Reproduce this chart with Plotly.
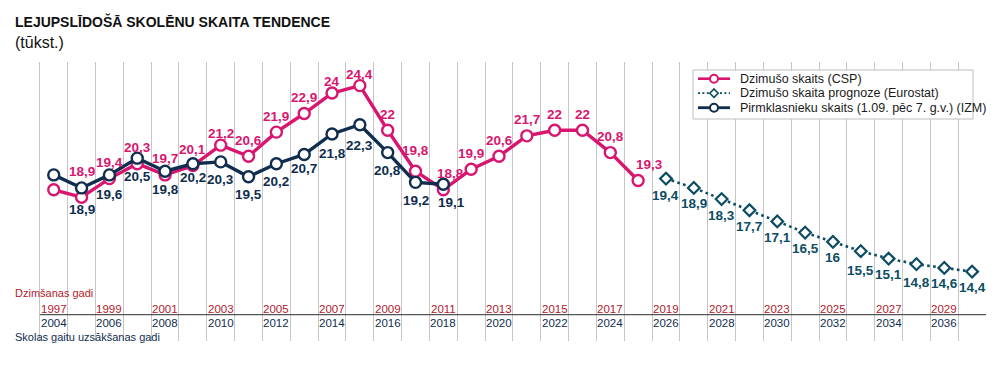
import plotly.graph_objects as go

# ---------------- data ----------------
birth_years = list(range(1997, 2019))            # CSP births, by birth year
births = [18.8, 18.4, 19.4, 20.2, 19.6, 20.1, 21.2, 20.6, 21.9, 22.9, 24.0,
          24.4, 22.0, 19.8, 18.8, 19.9, 20.6, 21.7, 22.0, 22.0, 20.8, 19.3]
births_labels = ["", "18,9", "19,4", "20,3", "19,7", "20,1", "21,2", "20,6",
                 "21,9", "22,9", "24", "24,4", "22", "19,8", "18,8", "19,9",
                 "20,6", "21,7", "22", "22", "20,8", "19,3"]

forecast_years = list(range(2019, 2031))          # Eurostat forecast
forecast = [19.4, 18.9, 18.3, 17.7, 17.1, 16.5, 16.0, 15.5, 15.1, 14.8, 14.6, 14.4]
forecast_labels = ["19,4", "18,9", "18,3", "17,7", "17,1", "16,5", "16",
                   "15,5", "15,1", "14,8", "14,6", "14,4"]

pupil_years = list(range(1997, 2012))             # first graders (by birth year)
pupils = [19.6, 18.9, 19.6, 20.5, 19.8, 20.2, 20.3, 19.5, 20.2, 20.7, 21.8,
          22.3, 20.8, 19.2, 19.1]
pupils_labels = ["", "18,9", "19,6", "20,5", "19,8", "20,2", "20,3", "19,5",
                 "20,2", "20,7", "21,8", "22,3", "20,8", "19,2", "19,1"]

tick_birth_years = list(range(1997, 2030, 2))
tick_school_years = [y + 7 for y in tick_birth_years]

series_names = ["Dzimušo skaits (CSP)",
                "Dzimušo skaita prognoze (Eurostat)",
                "Pirmklasnieku skaits (1.09. pēc 7. g.v.) (IZM)"]

# ---------------- style ----------------
PINK = "#d8166f"
NAVY = "#0f2d4e"
TEAL = "#0c4d63"
RED = "#b3192c"
GRID = "#c6c6c6"
SANS = "'Liberation Sans', Arial, 'DejaVu Sans', sans-serif"

# page has an 8px body margin: figure occupies window x 8..1000, y 8..369
W, H = 992, 361
ML, MR, MT, MB = 4, 14, 54, 28
PLOT_L, PLOT_T = ML + 8, MT + 8                   # window coords of plot area
PLOT_W, PLOT_H = W - ML - MR, H - MT - MB


def px(X):  # window pixel -> paper x
    return (X - PLOT_L) / PLOT_W


def py(Y):  # window pixel -> paper y
    return (PLOT_T + PLOT_H - Y) / PLOT_H


# label offsets (pixels) - style only
pink_dy = {1998: 26, 2003: 12, 2007: 12, 2008: 11, 2010: 21}
pink_dx = {2011: 7, 2018: 11}
navy_dy = {1998: -22, 1999: -20, 2002: -14, 2006: -14, 2007: -20, 2008: -21}
navy_dx = {2011: 8}
fc_dy = {2019: -17, 2026: -19, 2028: -18}

fig = go.Figure()

styles = [
    dict(line=dict(color=PINK, width=3.4),
         marker=dict(symbol="circle", size=11, color="white", line=dict(color=PINK, width=2.4))),
    dict(line=dict(color=TEAL, width=2.6, dash="2.6px,3.4px"),
         marker=dict(symbol="diamond", size=9, color="white", line=dict(color=TEAL, width=2.2))),
    dict(line=dict(color=NAVY, width=3.4),
         marker=dict(symbol="circle", size=11, color="white", line=dict(color=NAVY, width=2.4))),
]
data_sets = [(birth_years, births), (forecast_years, forecast), (pupil_years, pupils)]

for (xs, ys), st, name in zip(data_sets, styles, series_names):
    fig.add_trace(go.Scatter(x=xs, y=ys, name=name, mode="lines+markers",
                             line=st["line"], marker=st["marker"], showlegend=False))

annotations = []
label_font = dict(family=SANS, size=13.5, weight="bold")
for x, y, t in zip(birth_years, births, births_labels):
    if t:
        annotations.append(dict(x=x, y=y, text=t, showarrow=False,
                                xshift=pink_dx.get(x, 0), yshift=pink_dy.get(x, 16),
                                font=dict(label_font, color=PINK)))
for x, y, t in zip(pupil_years, pupils, pupils_labels):
    if t:
        annotations.append(dict(x=x, y=y, text=t, showarrow=False,
                                xshift=navy_dx.get(x, 0), yshift=navy_dy.get(x, -18),
                                font=dict(label_font, color=NAVY)))
for x, y, t in zip(forecast_years, forecast, forecast_labels):
    annotations.append(dict(x=x, y=y, text=t, showarrow=False,
                            yshift=fc_dy.get(x, -16),
                            font=dict(label_font, color=TEAL)))

# bottom year axes
for by, sy in zip(tick_birth_years, tick_school_years):
    annotations.append(dict(x=by, y=py(309), xref="x", yref="paper", text=str(by),
                            showarrow=False, yanchor="middle",
                            font=dict(family=SANS, size=11.5, color=RED)))
    annotations.append(dict(x=by, y=py(322.5), xref="x", yref="paper", text=str(sy),
                            showarrow=False, yanchor="middle",
                            font=dict(family=SANS, size=11.5, color=NAVY)))

annotations += [
    dict(x=px(13), y=py(293), xref="paper", yref="paper", xanchor="left", yanchor="middle",
         text="Dzimšanas gadi", showarrow=False,
         font=dict(family=SANS, size=11, color=RED)),
    dict(x=px(13), y=py(336.5), xref="paper", yref="paper", xanchor="left", yanchor="middle",
         text="Skolas gaitu uzsākšanas gadi", showarrow=False,
         font=dict(family=SANS, size=11, color=NAVY)),
    dict(x=px(13), y=py(21), xref="paper", yref="paper", xanchor="left", yanchor="middle",
         text="LEJUPSLĪDOŠĀ SKOLĒNU SKAITA TENDENCE", showarrow=False,
         font=dict(family=SANS, size=14, weight="bold", color="#111")),
    dict(x=px(13), y=py(42), xref="paper", yref="paper", xanchor="left", yanchor="middle",
         text="(tūkst.)", showarrow=False,
         font=dict(family=SANS, size=16, color="#111")),
]

shapes = [dict(type="line", xref="x", yref="paper", x0=1996.5, x1=2030.5,
               y0=py(314.7), y1=py(314.7), line=dict(color="#555", width=1.3))]

# ---------- hand-built legend (compact rows like the original) ----------
LEG_X0, LEG_X1, LEG_Y0, LEG_Y1 = 693, 973, 70, 119
ROWS = [78.7, 93.2, 107.7]
KEY_X0, KEY_X1, KEY_MID, TEXT_X = 698, 730, 714, 738
shapes.append(dict(type="rect", xref="paper", yref="paper", layer="above",
                   x0=px(LEG_X0), x1=px(LEG_X1), y0=py(LEG_Y1), y1=py(LEG_Y0),
                   fillcolor="white", line=dict(color="#bdbdbd", width=1)))
key_lines = [dict(color=PINK, width=2.6), dict(color=TEAL, width=1.8, dash="2px,2.4px"),
             dict(color=NAVY, width=2.8)]
key_colors = [PINK, TEAL, NAVY]
for row, kl, kc, name in zip(ROWS, key_lines, key_colors, series_names):
    shapes.append(dict(type="line", xref="paper", yref="paper", layer="above",
                       x0=px(KEY_X0), x1=px(KEY_X1), y0=py(row), y1=py(row), line=kl))
    if kc == TEAL:
        shapes.append(dict(type="path", xref="paper", yref="paper", layer="above",
                           xsizemode="pixel", ysizemode="pixel",
                           xanchor=px(KEY_MID), yanchor=py(row),
                           path="M -4.2 0 L 0 4.2 L 4.2 0 L 0 -4.2 Z",
                           fillcolor="white", line=dict(color=kc, width=1.6)))
    else:
        shapes.append(dict(type="circle", xref="paper", yref="paper", layer="above",
                           xsizemode="pixel", ysizemode="pixel",
                           xanchor=px(KEY_MID), yanchor=py(row),
                           x0=-4, x1=4, y0=-4, y1=4,
                           fillcolor="white", line=dict(color=kc, width=2)))
    annotations.append(dict(x=px(TEXT_X), y=py(row), xref="paper", yref="paper",
                            xanchor="left", yanchor="middle", text=name, showarrow=False,
                            font=dict(family=SANS, size=12.5, color="#1a1a1a")))

fig.update_layout(
    width=W, height=H,
    margin=dict(l=ML, r=MR, t=MT, b=MB),
    paper_bgcolor="white", plot_bgcolor="white",
    showlegend=False,
    annotations=annotations,
    shapes=shapes,
)
fig.update_xaxes(range=[1995.5, 2030.5], tickvals=[y + 0.5 for y in range(1995, 2031)],
                 showticklabels=False, ticks="", showgrid=True, gridcolor=GRID,
                 gridwidth=1.4, zeroline=False, showline=False)
fig.update_yaxes(range=[10.67, 25.67], showgrid=False, showticklabels=False,
                 zeroline=False, showline=False, ticks="")

fig.write_html("out.html")
